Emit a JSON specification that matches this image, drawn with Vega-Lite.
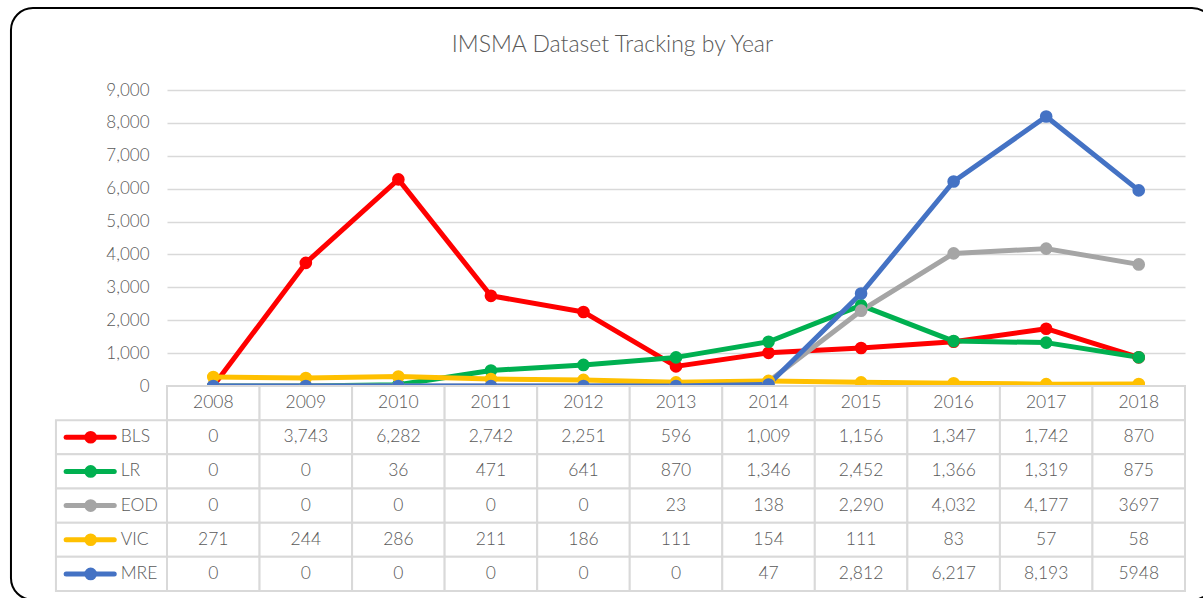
{
  "$schema": "https://vega.github.io/schema/vega-lite/v6.json",
  "padding": {"left": 9, "top": 7, "right": 0, "bottom": 0},
  "background": "white",
  "title": {"text": "IMSMA Dataset Tracking by Year", "fontSize": 23, "font": "Lato", "fontWeight": 300, "color": "#595959", "anchor": "middle", "offset": -50},
  "config": {"view": {"stroke": null}, "text": {"font": "Lato", "fontWeight": 300}},
  "datasets": {
    "counts": [
      {"series": "BLS", "year": 2008, "value": 0, "label": "0"},
      {"series": "BLS", "year": 2009, "value": 3743, "label": "3,743"},
      {"series": "BLS", "year": 2010, "value": 6282, "label": "6,282"},
      {"series": "BLS", "year": 2011, "value": 2742, "label": "2,742"},
      {"series": "BLS", "year": 2012, "value": 2251, "label": "2,251"},
      {"series": "BLS", "year": 2013, "value": 596, "label": "596"},
      {"series": "BLS", "year": 2014, "value": 1009, "label": "1,009"},
      {"series": "BLS", "year": 2015, "value": 1156, "label": "1,156"},
      {"series": "BLS", "year": 2016, "value": 1347, "label": "1,347"},
      {"series": "BLS", "year": 2017, "value": 1742, "label": "1,742"},
      {"series": "BLS", "year": 2018, "value": 870, "label": "870"},
      {"series": "LR", "year": 2008, "value": 0, "label": "0"},
      {"series": "LR", "year": 2009, "value": 0, "label": "0"},
      {"series": "LR", "year": 2010, "value": 36, "label": "36"},
      {"series": "LR", "year": 2011, "value": 471, "label": "471"},
      {"series": "LR", "year": 2012, "value": 641, "label": "641"},
      {"series": "LR", "year": 2013, "value": 870, "label": "870"},
      {"series": "LR", "year": 2014, "value": 1346, "label": "1,346"},
      {"series": "LR", "year": 2015, "value": 2452, "label": "2,452"},
      {"series": "LR", "year": 2016, "value": 1366, "label": "1,366"},
      {"series": "LR", "year": 2017, "value": 1319, "label": "1,319"},
      {"series": "LR", "year": 2018, "value": 875, "label": "875"},
      {"series": "EOD", "year": 2008, "value": 0, "label": "0"},
      {"series": "EOD", "year": 2009, "value": 0, "label": "0"},
      {"series": "EOD", "year": 2010, "value": 0, "label": "0"},
      {"series": "EOD", "year": 2011, "value": 0, "label": "0"},
      {"series": "EOD", "year": 2012, "value": 0, "label": "0"},
      {"series": "EOD", "year": 2013, "value": 23, "label": "23"},
      {"series": "EOD", "year": 2014, "value": 138, "label": "138"},
      {"series": "EOD", "year": 2015, "value": 2290, "label": "2,290"},
      {"series": "EOD", "year": 2016, "value": 4032, "label": "4,032"},
      {"series": "EOD", "year": 2017, "value": 4177, "label": "4,177"},
      {"series": "EOD", "year": 2018, "value": 3697, "label": "3697"},
      {"series": "VIC", "year": 2008, "value": 271, "label": "271"},
      {"series": "VIC", "year": 2009, "value": 244, "label": "244"},
      {"series": "VIC", "year": 2010, "value": 286, "label": "286"},
      {"series": "VIC", "year": 2011, "value": 211, "label": "211"},
      {"series": "VIC", "year": 2012, "value": 186, "label": "186"},
      {"series": "VIC", "year": 2013, "value": 111, "label": "111"},
      {"series": "VIC", "year": 2014, "value": 154, "label": "154"},
      {"series": "VIC", "year": 2015, "value": 111, "label": "111"},
      {"series": "VIC", "year": 2016, "value": 83, "label": "83"},
      {"series": "VIC", "year": 2017, "value": 57, "label": "57"},
      {"series": "VIC", "year": 2018, "value": 58, "label": "58"},
      {"series": "MRE", "year": 2008, "value": 0, "label": "0"},
      {"series": "MRE", "year": 2009, "value": 0, "label": "0"},
      {"series": "MRE", "year": 2010, "value": 0, "label": "0"},
      {"series": "MRE", "year": 2011, "value": 0, "label": "0"},
      {"series": "MRE", "year": 2012, "value": 0, "label": "0"},
      {"series": "MRE", "year": 2013, "value": 0, "label": "0"},
      {"series": "MRE", "year": 2014, "value": 47, "label": "47"},
      {"series": "MRE", "year": 2015, "value": 2812, "label": "2,812"},
      {"series": "MRE", "year": 2016, "value": 6217, "label": "6,217"},
      {"series": "MRE", "year": 2017, "value": 8193, "label": "8,193"},
      {"series": "MRE", "year": 2018, "value": 5948, "label": "5948"}
    ]
  },
  "vconcat": [
    {
      "width": 1018,
      "height": 296,
      "data": {"name": "counts"},
      "encoding": {
        "x": {"field": "year", "type": "quantitative", "scale": {"domain": [2007.5, 2018.5], "nice": false, "zero": false, "padding": 0}, "axis": null},
        "y": {"field": "value", "type": "quantitative", "scale": {"domain": [0, 9000], "nice": false, "padding": 0},
          "axis": {"values": [0, 1000, 2000, 3000, 4000, 5000, 6000, 7000, 8000, 9000], "format": ",d", "title": null, "domain": false, "ticks": false, "labelPadding": 18, "gridColor": "#d9d9d9", "gridWidth": 1.5, "labelFontSize": 17, "labelColor": "#595959", "labelFont": "Lato", "labelFontWeight": 300}},
        "color": {"field": "series", "type": "nominal", "scale": {"domain": ["BLS", "LR", "EOD", "VIC", "MRE"], "range": ["#ff0000", "#00b050", "#a5a5a5", "#ffc000", "#4472c4"]}, "legend": null}
      },
      "layer": [
        {
          "transform": [{"filter": "datum.series == 'BLS' && datum.year == 2008"}],
          "mark": {"type": "rect", "fill": null, "fillOpacity": 0, "stroke": "black", "strokeWidth": 2, "cornerRadius": 22, "clip": false},
          "encoding": {
            "x": {"datum": 2005.814, "type": "quantitative"},
            "x2": {"datum": 2018.813},
            "y": {"datum": 11493, "type": "quantitative"},
            "y2": {"datum": -6507},
            "color": {"value": null}
          }
        },
        {"mark": {"type": "line", "strokeWidth": 5, "strokeJoin": "round", "strokeCap": "round"}},
        {"mark": {"type": "point", "filled": true, "size": 160, "opacity": 1}}
      ]
    },
    {
      "width": 1018,
      "height": 205,
      "data": {"name": "counts"},
      "layer": [
        {
          "transform": [{"filter": "datum.series == 'BLS'"}],
          "mark": {"type": "bar", "orient": "vertical", "width": 92.545, "fill": "white", "stroke": "#d9d9d9", "strokeWidth": 2},
          "encoding": {
            "x": {"field": "year", "type": "quantitative", "scale": {"domain": [2007.5, 2018.5], "nice": false, "zero": false, "padding": 0}, "axis": null},
            "y": {"datum": "Year", "type": "nominal", "scale": {"domain": ["Year", "BLS", "LR", "EOD", "VIC", "MRE"], "paddingInner": 0, "paddingOuter": 0}, "axis": null}
          }
        },
        {
          "mark": {"type": "bar", "orient": "vertical", "width": 92.545, "fill": "white", "stroke": "#d9d9d9", "strokeWidth": 2},
          "encoding": {
            "x": {"field": "year", "type": "quantitative"},
            "y": {"field": "series", "type": "nominal"}
          }
        },
        {
          "transform": [{"filter": "datum.year == 2008"}],
          "mark": {"type": "rect", "fill": "white", "stroke": "#d9d9d9", "strokeWidth": 2},
          "encoding": {
            "x": {"datum": 2006.3, "type": "quantitative"},
            "x2": {"datum": 2007.5},
            "y": {"field": "series", "type": "nominal"}
          }
        },
        {
          "transform": [{"filter": "datum.series == 'BLS'"}],
          "mark": {"type": "text", "fontSize": 17.5, "color": "#595959"},
          "encoding": {
            "x": {"field": "year", "type": "quantitative"},
            "y": {"datum": "Year", "type": "nominal"},
            "text": {"field": "year", "type": "quantitative", "format": "d"}
          }
        },
        {
          "mark": {"type": "text", "fontSize": 17.5, "color": "#595959"},
          "encoding": {
            "x": {"field": "year", "type": "quantitative"},
            "y": {"field": "series", "type": "nominal"},
            "text": {"field": "label", "type": "nominal"}
          }
        },
        {
          "transform": [{"filter": "datum.year == 2008"}],
          "mark": {"type": "rule", "strokeWidth": 5, "strokeCap": "round"},
          "encoding": {
            "x": {"datum": 2006.41, "type": "quantitative"},
            "x2": {"datum": 2006.93},
            "y": {"field": "series", "type": "nominal"},
            "color": {"field": "series", "type": "nominal", "scale": {"domain": ["BLS", "LR", "EOD", "VIC", "MRE"], "range": ["#ff0000", "#00b050", "#a5a5a5", "#ffc000", "#4472c4"]}, "legend": null}
          }
        },
        {
          "transform": [{"filter": "datum.year == 2008"}],
          "mark": {"type": "point", "filled": true, "size": 160, "opacity": 1},
          "encoding": {
            "x": {"datum": 2006.675, "type": "quantitative"},
            "y": {"field": "series", "type": "nominal"},
            "color": {"field": "series", "type": "nominal", "legend": null}
          }
        },
        {
          "transform": [{"filter": "datum.year == 2008"}],
          "mark": {"type": "text", "fontSize": 17.5, "color": "#595959", "align": "left"},
          "encoding": {
            "x": {"datum": 2007.0, "type": "quantitative"},
            "y": {"field": "series", "type": "nominal"},
            "text": {"field": "series", "type": "nominal"}
          }
        }
      ]
    }
  ],
  "spacing": 0,
  "bounds": "flush"
}
